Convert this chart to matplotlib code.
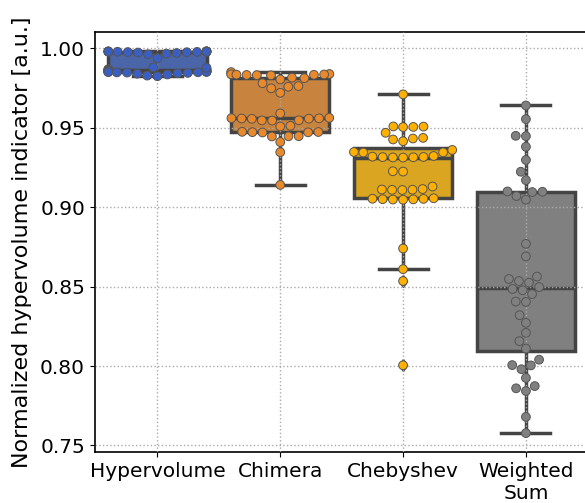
import numpy as np
import pandas as pd
import matplotlib
matplotlib.use("Agg")
import matplotlib.pyplot as plt
import seaborn as sns

# categorias del eje x
metodos = ["Hypervolume", "Chimera", "Chebyshev", "Weighted\nSum"]

# valores (40 corridas por metodo)
hypervolume = [0.9868, 0.9866, 0.9864, 0.9862, 0.9860, 0.9858, 0.9856, 0.9855,
               0.9854, 0.9853, 0.9852, 0.9851, 0.9850, 0.9849, 0.9848, 0.9847,
               0.9845, 0.9843, 0.9840, 0.9835, 0.9828, 0.9824,
               0.9938, 0.9880, 0.9877,
               0.9981, 0.9980, 0.9980, 0.9980, 0.9979, 0.9979, 0.9978, 0.9978,
               0.9977, 0.9976, 0.9975, 0.9973, 0.9970, 0.9966, 0.9962]
chimera = [0.9850, 0.9838, 0.9836, 0.9835, 0.9834, 0.9833, 0.9832, 0.9831, 0.9830,
           0.9815, 0.9812, 0.9804, 0.9780, 0.9762, 0.9758, 0.9748, 0.9720,
           0.9590, 0.9562, 0.9560, 0.9559, 0.9558, 0.9557, 0.9556,
           0.9547, 0.9546, 0.9545, 0.9512, 0.9508,
           0.9474, 0.9473, 0.9472, 0.9471, 0.9470, 0.9447, 0.9446, 0.9445,
           0.9410, 0.9346, 0.9140]
chebyshev = [0.9710, 0.9508, 0.9507, 0.9505, 0.9504, 0.9468,
             0.9436, 0.9432, 0.9426, 0.9415, 0.9360, 0.9347, 0.9345, 0.9344,
             0.9322, 0.9318, 0.9316, 0.9315, 0.9314, 0.9313, 0.9312,
             0.9226, 0.9224, 0.9130, 0.9114, 0.9111, 0.9110, 0.9109, 0.9108,
             0.9056, 0.9053, 0.9052, 0.9050, 0.9049, 0.9048, 0.9047,
             0.8740, 0.8610, 0.8535, 0.8005]
weighted_sum = [0.9640, 0.9554, 0.9449, 0.9447, 0.9380, 0.9297, 0.9223, 0.9170,
                0.9099, 0.9097, 0.9095, 0.9070, 0.9047, 0.8769, 0.8690, 0.8563,
                0.8548, 0.8535, 0.8525, 0.8497, 0.8485, 0.8477, 0.8453, 0.8406,
                0.8404, 0.8320, 0.8272, 0.8209, 0.8157, 0.8110, 0.8040, 0.8006,
                0.8004, 0.7980, 0.7925, 0.7874, 0.7860, 0.7843, 0.7680, 0.7578]

colores_caja = ["#4a65a8", "#c8843e", "#daa520", "#808080"]
colores_punto = ["#3a5fc4", "#e8892c", "#ffb000", "#808080"]

series = [hypervolume, chimera, chebyshev, weighted_sum]
df = pd.DataFrame({
    "metodo": np.repeat(metodos, [len(s) for s in series]),
    "valor": np.concatenate(series),
})

fig = plt.figure(figsize=(5.85, 5.03), dpi=100)
ax = fig.add_axes([0.162, 0.101, 0.842, 0.835])

sns.boxplot(data=df, x="metodo", y="valor", hue="metodo", order=metodos,
            palette=colores_caja, saturation=1, width=0.8, linewidth=2.5,
            linecolor="#444444", legend=False, ax=ax,
            flierprops=dict(marker="d", markersize=6, markerfacecolor="#444444",
                            markeredgecolor="#444444"))
sns.swarmplot(data=df, x="metodo", y="valor", hue="metodo", order=metodos,
              palette=colores_punto, size=6.3, edgecolor="#555555", linewidth=0.7,
              legend=False, ax=ax, zorder=3)

ax.set_axisbelow(False)
ax.grid(True, ls=":", color="#aaaaaa", lw=1)
ax.set_xlim(-0.51, 3.5)
ax.set_xlabel("")
ax.set_ylabel("Normalized hypervolume indicator [a.u.]", fontsize=16, labelpad=6)
ax.tick_params(labelsize=14.5)
ax.set_yticks([0.75, 0.80, 0.85, 0.90, 0.95, 1.00])
for s in ax.spines.values():
    s.set_linewidth(1.2)

fig.savefig("out.png", dpi=100)
